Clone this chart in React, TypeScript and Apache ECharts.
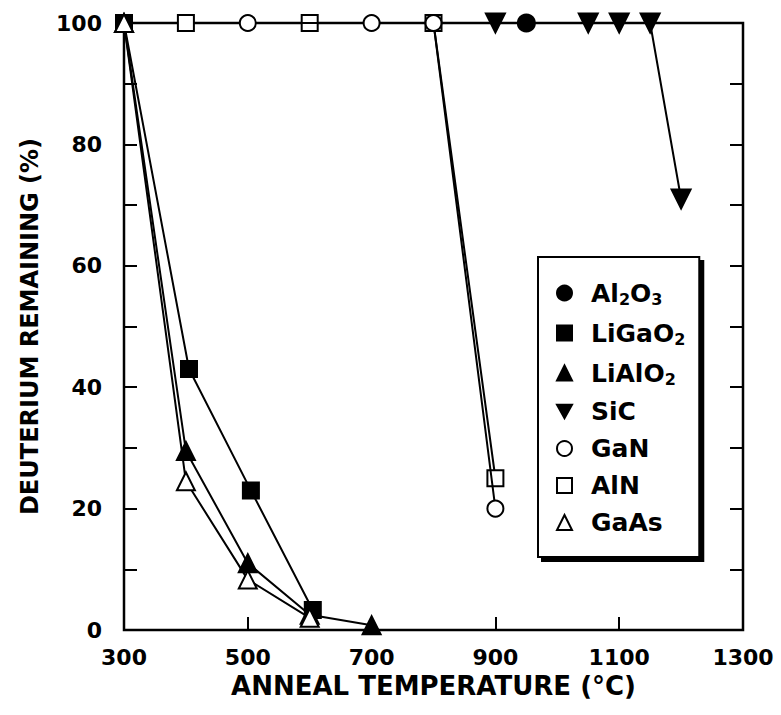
import React, { useEffect, useRef } from "react";
import * as echarts from "echarts";

// ---- data ----
const seriesNames = ["Al2O3", "LiGaO2", "LiAlO2", "SiC", "GaN", "AlN", "GaAs"];
const al2o3: number[][] = [[950, 100]];
const liGaO2: number[][] = [[300, 100], [405, 43], [505, 23], [605, 3.3]];
const liAlO2: number[][] = [[300, 100], [400, 29.5], [500, 11], [600, 2.5], [700, 0.8]];
const siC: number[][] = [[900, 100], [1050, 100], [1100, 100], [1150, 100], [1200, 71]];
const gaN: number[][] = [[500, 100], [700, 100], [800, 100], [900, 20]];
const alN: number[][] = [[400, 100], [600, 100], [800, 100], [900, 25]];
const gaAs: number[][] = [[300, 100], [400, 24.5], [500, 8.3], [600, 2]];

const xMin = 300;
const xMax = 1300;
const xStep = 200;
const yMin = 0;
const yMax = 100;
const yStep = 20;

const xTitle = "ANNEAL TEMPERATURE (°C)";
const yTitle = "DEUTERIUM REMAINING (%)";

const legendRich: Record<string, string> = {
  Al2O3: "{n|Al}{s|2}{n|O}{s|3}",
  LiGaO2: "{n|LiGaO}{s|2}",
  LiAlO2: "{n|LiAlO}{s|2}",
  SiC: "{n|SiC}",
  GaN: "{n|GaN}",
  AlN: "{n|AlN}",
  GaAs: "{n|GaAs}",
};

const FONT = "DejaVu Sans";

export default function App() {
  const ref = useRef<HTMLDivElement>(null);

  useEffect(() => {
    if (!ref.current) return;
    const chart = echarts.init(ref.current, null, { renderer: "svg" });

    const lineStyle = { color: "#000", width: 2 };
    const mk = (name: string, data: number[][], symbol: string, size: number, extra: any = {}) => ({
      name,
      type: "line",
      data,
      symbol,
      symbolSize: size,
      lineStyle,
      itemStyle: { color: "#000", borderColor: "#000", borderWidth: 2 },
      emphasis: { disabled: true },
      ...extra,
    });

    const tickStyle = { color: "#000", width: 2 };

    chart.setOption({
      animation: false,
      backgroundColor: "#fff",
      grid: {
        left: 124,
        right: 38,
        top: 23,
        bottom: 85,
        show: true,
        borderColor: "#000",
        borderWidth: 2.5,
        backgroundColor: "transparent",
      },
      xAxis: [
        {
          type: "value",
          min: xMin,
          max: xMax,
          interval: xStep,
          name: xTitle,
          nameLocation: "middle",
          nameGap: 43,
          nameTextStyle: { fontFamily: FONT, fontWeight: "bold", fontSize: 26, color: "#000" },
          axisLine: { show: false },
          axisTick: { show: true, inside: true, length: 13, lineStyle: tickStyle },
          axisLabel: {
            fontFamily: FONT,
            fontWeight: "bold",
            fontSize: 22,
            color: "#000",
            margin: 16,
            formatter: (v: number) => String(v),
          },
          splitLine: { show: false },
        },
      ],
      yAxis: [
        {
          type: "value",
          min: yMin,
          max: yMax,
          interval: yStep,
          name: yTitle,
          nameLocation: "middle",
          nameGap: 82,
          nameRotate: 90,
          nameTextStyle: { fontFamily: FONT, fontWeight: "bold", fontSize: 24, color: "#000" },
          axisLine: { show: false },
          axisTick: { show: true, inside: true, length: 13, lineStyle: tickStyle },
          minorTick: { show: true, splitNumber: 2, length: 13, lineStyle: tickStyle },
          axisLabel: {
            fontFamily: FONT,
            fontWeight: "bold",
            fontSize: 22,
            color: "#000",
            margin: 22,
            formatter: (v: number) => String(v),
          },
          splitLine: { show: false },
        },
        {
          type: "value",
          position: "right",
          min: yMin,
          max: yMax,
          interval: yStep,
          axisLine: { show: false },
          axisTick: { show: true, inside: true, length: 13, lineStyle: tickStyle },
          minorTick: { show: true, splitNumber: 2, length: 13, lineStyle: tickStyle },
          axisLabel: { show: false },
          splitLine: { show: false },
        },
      ],
      legend: {
        left: 538,
        top: 257,
        orient: "vertical",
        backgroundColor: "#fff",
        borderColor: "#000",
        borderWidth: 2,
        borderRadius: 0,
        shadowColor: "#000",
        shadowBlur: 0,
        shadowOffsetX: 4,
        shadowOffsetY: 4,
        padding: [22, 14, 22, 18],
        itemGap: 12,
        itemWidth: 15,
        itemHeight: 15,
        selectedMode: false,
        data: [
          { name: "Al2O3", icon: "circle" },
          { name: "LiGaO2", icon: "rect" },
          { name: "LiAlO2", icon: "triangle" },
          { name: "SiC", icon: "path://M0,0L10,0L5,9Z" },
          { name: "GaN", icon: "emptyCircle" },
          { name: "AlN", icon: "emptyRect" },
          { name: "GaAs", icon: "emptyTriangle" },
        ],
        formatter: (name: string) => legendRich[name] || name,
        textStyle: {
          padding: [0, 0, 0, 14],
          rich: {
            n: { fontFamily: FONT, fontWeight: "bold", fontSize: 25, color: "#000", lineHeight: 26 },
            s: {
              fontFamily: FONT,
              fontWeight: "bold",
              fontSize: 16,
              color: "#000",
              lineHeight: 14,
              padding: [12, 0, 0, 0],
            },
          },
        },
      },
      series: [
        mk(seriesNames[0], al2o3, "circle", 17, { z: 3 }),
        mk(seriesNames[1], liGaO2, "rect", 16, { z: 3 }),
        mk(seriesNames[2], liAlO2, "triangle", 18, { z: 3 }),
        mk(seriesNames[3], siC, "triangle", 19, { z: 3, symbolRotate: 180 }),
        mk(seriesNames[4], gaN, "emptyCircle", 16, { z: 5 }),
        mk(seriesNames[5], alN, "emptyRect", 16, { z: 4 }),
        mk(seriesNames[6], gaAs, "emptyTriangle", 18, { z: 6 }),
      ],
    });

    return () => chart.dispose();
  }, []);

  return (
    <div
      ref={ref}
      style={{ position: "fixed", left: 0, top: 0, width: 781, height: 715, background: "#fff" }}
    />
  );
}
